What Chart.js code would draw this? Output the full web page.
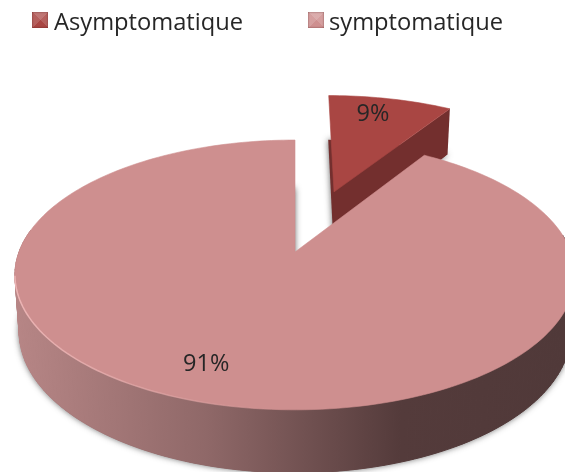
<!DOCTYPE html>
<html>
<head>
<meta charset="utf-8">
<script src="https://cdn.jsdelivr.net/npm/chart.js@4"></script>
<style>
  html, body { margin: 0; padding: 0; background: #fff; }
  #wrap { position: relative; width: 565px; height: 472px; overflow: hidden; }
  #legend span { position: absolute; top: 5px; font: 23.7px "Open Sans", sans-serif; color: #262626; white-space: nowrap; }
  #legend i { position: absolute; top: 12px; width: 16px; height: 16px; }
</style>
</head>
<body>
<div id="wrap">
  <canvas id="myChart" width="565" height="472"></canvas>
  <div id="legend"></div>
</div>
<script>
const categories = ['Asymptomatique', 'symptomatique'];
const percentages = [9, 91];
const sliceLabels = ['9%', '91%'];
const pulledOut = [224, 0];

const topColors = ['#a94643', '#ce8f8f'];
const edgeColors = ['#732f2e', '#7a5a5a'];
const wallStops = [[0, '#b78686'], [0.35, '#8f6868'], [0.7, '#543b3b'], [1, '#503939']];
const legendMarks = ['#a94643', '#ce8f8f'];
const legendLeft = [32, 308];
const legendTextLeft = [54, 329];

// the fake 3D look: tilted disc with some perspective
const spanX = 276, spanY = 131, tilt = 0.17;
const pivotX = 295, pivotY = 252;

function project(u, v) {
    var w = 1 + tilt * v;
    return { x: pivotX + spanX * u / w, y: pivotY - spanY * v / w };
}

function lower(p, v) {
    // lower plane of the disc, nearer parts look thicker
    return { x: pivotX + (p.x - pivotX) * 0.985, y: p.y + 55.5 - 7.5 * v };
}

function slicePoint(arc, frac, angle) {
    var shift = (arc.options.offset || 0) / 4 / arc.outerRadius;
    var mid = (arc.startAngle + arc.endAngle) / 2;
    var u = frac * Math.cos(angle) + shift * Math.cos(mid) * 1.06;
    var v = -frac * Math.sin(angle) - shift * Math.sin(mid);
    return { p: project(u, v), v: v };
}

function rimPoints(arc) {
    var pts = [];
    var steps = Math.ceil((arc.endAngle - arc.startAngle) * 40);
    for (var i = 0; i <= steps; i++) {
        pts.push(slicePoint(arc, 1, arc.startAngle + (arc.endAngle - arc.startAngle) * i / steps));
    }
    return pts;
}

function trace(ctx, pts) {
    ctx.beginPath();
    pts.forEach(function (p, i) {
        if (i === 0) ctx.moveTo(p.x, p.y); else ctx.lineTo(p.x, p.y);
    });
    ctx.closePath();
}

const disc3d = {
    id: 'disc3d',
    beforeDatasetsDraw: function (chart) {
        var ctx = chart.ctx;
        var arcs = chart.getDatasetMeta(0).data;

        arcs.forEach(function (arc, i) {
            var rim = rimPoints(arc);
            var apex = slicePoint(arc, 0, arc.startAngle);
            var rimTop = rim.map(function (r) { return r.p; });
            var rimLow = rim.map(function (r) { return lower(r.p, r.v); });
            var apexLow = lower(apex.p, apex.v);

            ctx.save();

            // soft shadow round the bottom of the slice
            ctx.save();
            ctx.shadowColor = 'rgba(50,50,50,0.75)';
            ctx.shadowBlur = 6;
            ctx.fillStyle = edgeColors[i];
            trace(ctx, [apexLow].concat(rimLow));
            ctx.fill();
            ctx.restore();

            if (i === 0) {
                // cut face seen on the pulled out slice
                var last = rim.length - 1;
                ctx.fillStyle = edgeColors[i];
                trace(ctx, [apex.p, rimTop[last], rimLow[last], apexLow]);
                ctx.fill();
            } else {
                var grad = ctx.createLinearGradient(15, 0, 565, 0);
                wallStops.forEach(function (s) { grad.addColorStop(s[0], s[1]); });
                ctx.fillStyle = grad;
                ctx.strokeStyle = grad;
                for (var k = 0; k < rim.length - 1; k++) {
                    if (rim[k].v > 0.15) continue; // back of the disc, never seen
                    trace(ctx, [rimTop[k], rimTop[k + 1], rimLow[k + 1], rimLow[k]]);
                    ctx.fill();
                    ctx.stroke();
                }
            }

            // top face
            ctx.fillStyle = topColors[i];
            ctx.strokeStyle = topColors[i];
            ctx.lineWidth = 0.6;
            trace(ctx, [apex.p].concat(rimTop));
            ctx.fill();
            ctx.stroke();

            if (i === 1) {
                var shine = ctx.createLinearGradient(15, 0, 280, 0);
                shine.addColorStop(0, 'rgba(240,185,185,0.9)');
                shine.addColorStop(1, 'rgba(240,185,185,0)');
                ctx.strokeStyle = shine;
                ctx.lineWidth = 1.5;
                ctx.beginPath();
                rimTop.forEach(function (p) {
                    if (p.y > 275) ctx.lineTo(p.x, p.y);
                });
                ctx.stroke();
            }
            ctx.restore();
        });

        // percent labels
        ctx.save();
        ctx.font = '23.5px "Open Sans", sans-serif';
        ctx.fillStyle = '#262626';
        ctx.textAlign = 'center';
        ctx.textBaseline = 'middle';
        var spots = [[0.8, -Math.PI / 2 + 0.24], [0.8, -Math.PI / 2 + 3.5]];
        arcs.forEach(function (arc, i) {
            var s = slicePoint(arc, spots[i][0], spots[i][1]);
            ctx.fillText(sliceLabels[i], s.p.x, s.p.y);
        });
        ctx.restore();
        return false; // slices are painted above
    }
};

new Chart(document.getElementById('myChart'), {
    type: 'pie',
    data: {
        labels: categories,
        datasets: [{
            data: percentages,
            backgroundColor: topColors,
            offset: pulledOut,
            borderWidth: 0
        }]
    },
    options: {
        responsive: false,
        animation: false,
        layout: { padding: { left: 25, top: 32 } },
        plugins: { legend: { display: false }, tooltip: { enabled: false } }
    },
    plugins: [disc3d]
});

// legend beside the chart, same look as the little bevelled squares
var legendBox = document.getElementById('legend');
categories.forEach(function (name, i) {
    var mark = document.createElement('i');
    mark.style.left = legendLeft[i] + 'px';
    mark.style.background = 'linear-gradient(135deg, rgba(255,255,255,.14) 0 50%, transparent 50%), ' +
        'linear-gradient(225deg, rgba(255,255,255,.14) 0 50%, transparent 50%), ' + legendMarks[i];
    mark.style.boxShadow = 'inset 0 0 2px rgba(60,0,0,.6)';
    mark.style.filter = 'blur(0.4px)';
    legendBox.appendChild(mark);
    var text = document.createElement('span');
    text.style.left = legendTextLeft[i] + 'px';
    text.textContent = name;
    legendBox.appendChild(text);
});
</script>
</body>
</html>
